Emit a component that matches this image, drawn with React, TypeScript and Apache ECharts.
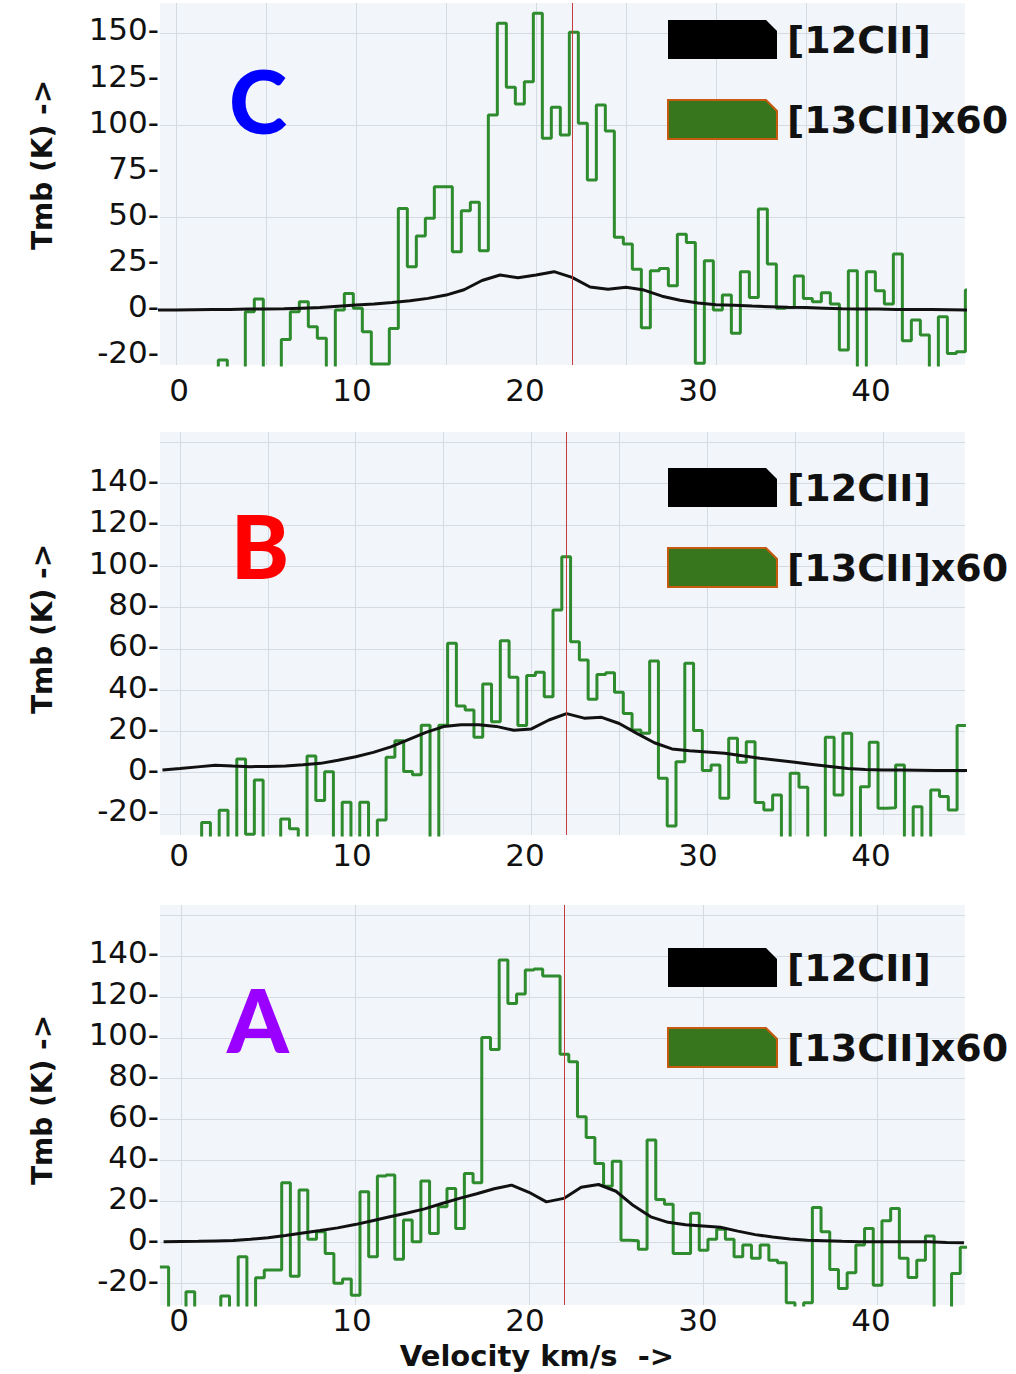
import React, { useEffect, useRef } from 'react';
import * as echarts from 'echarts';

// ---------- data ----------
const BIN = 0.5; // km/s channel width of the [13CII] histograms
const RED_LINE_V = 22; // km/s

const SERIES_12 = '[12CII]';
const SERIES_13 = '[13CII]x60';

// Panel C  ([13CII]x60 channel values, first channel starts at C_GREEN_V0)
const C_GREEN_V0 = -1.15;
const C_GREEN = [
  -40, -40, -40, -40, -40, -40, -40,
  -27.7, -40, -40, -1.5, 5.4, -40, -40, -16.5, -1.5, 4.0,
  -9.6, -15.9, -40, -0.5, 8.5, 0.4, -12.3, -29.8, -29.8, -10.5,
  54.7, 23.0, 39.7, 49.3, 66.5, 66.5, 31.1, 53.4, 58.0, 31.7,
  105.4, 155.3, 120.5, 111.4, 123.5, 160.7, 92.8, 109.6, 94.6,
  150.4, 100.9, 70.1, 110.9, 96.7, 39.0, 35.3, 21.6, -10.1, 20.8,
  22.1, 12.7, 40.6, 36.2, -29.5, 26.3, -0.5, 7.6, -13.2, 20.3,
  6.3, 54.3, 24.5, 0.4, 0.8, 17.9, 5.8, 4.0, 8.9, 2.7,
  -22.3, 20.8, -40, 20.3, 10.0, 2.7, 29.9, -17.2, -6.0, -14.1,
  -40, -4.2, -24.1, -23.2, 10.3,
];

// Panel B
const B_GREEN_V0 = -1.27;
const B_GREEN = [
  -40, -40, -40, -40, -40,
  -24.2, -40, -18.2, -40, 6.6, -29.8, -3.5, -40, -40, -22.5,
  -27.2, -40, 8.1, -13.5, 0.4, -40, -14.3, -40, -14.3, -40,
  -22.9, 7.4, 15.4, 0.5, -1.0, 23.0, -40, 23.0, 62.7, 32.3,
  30.4, 17.1, 43.0, 24.7, 63.9, 46.2, 22.8, 47.0, 48.6, 36.8,
  78.8, 104.6, 63.4, 54.6, 35.5, 47.6, 48.4, 38.9, 28.7, 20.7,
  19.1, 54.1, -2.7, -25.8, 5.3, 53.0, 20.4, 1.0, 3.7, -12.4,
  16.7, 5.0, 15.0, -14.5, -18.1, -10.8, -40, -0.3, -7.1, -40,
  -40, 17.1, -10.8, 19.1, -40, -6.8, 14.7, -17.3, -17.0, 3.7,
  -40, -16.5, -40, -8.4, -11.6, -18.1, 22.8,
];

// Panel A
const A_GREEN_V0 = -1.213;
const A_GREEN = [
  -12, -40, -40,
  -24.1, -40, -40, -40, -26.2, -40, -7.0, -40, -17.3, -13.5,
  -13.5, 29.1, -16.5, 25.6, 1.5, 5.2, -5.4, -20.0, -17.9, -25.8,
  24.7, -7.0, 32.4, 32.9, -8.3, 10.9, 0.3, 30.0, 4.4, 17.4,
  26.4, 6.8, 33.7, 29.1, 100.2, 94.3, 138.0, 116.8, 121.4, 133.1,
  133.6, 130.2, 130.2, 92.0, 88.3, 61.4, 51.3, 38.6, 27.5, 39.7,
  1.1, 0.8, -3.4, 50.0, 21.0, 18.7, -5.4, -5.4, 14.2, -3.8,
  1.5, 6.4, 1.5, -7.0, -1.3, -7.8, -1.3, -8.7, -9.9, -29.5,
  -40, -29.5, 17.1, 5.2, -13.2, -22.5, -14.8, -1.3, 6.8, -20.9,
  10.6, 16.6, -7.8, -17.1, -8.7, 3.1, -40, -40, -15.2, -2.4,
];

// [12CII] sampled at these velocities
const BLACK_V = [
  -1, 0, 1, 2, 3, 4, 5, 6, 7, 8, 9, 10, 11, 12, 13, 14, 15, 16, 17, 18, 19, 20, 21, 22, 23,
  24, 25, 26, 27, 28, 29, 30, 31, 32, 33, 34, 35, 36, 37, 38, 39, 40, 41, 42, 43, 44, 45,
];
const C_BLACK = [
  -0.5, -0.5, -0.4, -0.3, -0.2, 0, 0, 0.2, 0.5, 0.8, 1.5, 2.2, 2.8, 3.6, 4.5, 5.8, 7.6, 10.5,
  15.5, 18.5, 17.0, 18.5, 20.3, 17.2, 12.0, 10.8, 11.8, 10.3, 7.0, 4.8, 3.3, 2.4, 2.0, 1.6,
  1.3, 1.0, 0.8, 0.5, 0.2, 0, 0, -0.2, -0.3, -0.3, -0.4, -0.5, -0.5,
];
const B_BLACK = [
  1.3, 2.0, 2.8, 3.6, 3.2, 2.9, 3.0, 3.2, 3.8, 4.5, 6.0, 7.7, 9.8, 12.5, 16.0, 19.5, 22.3,
  23.2, 23.2, 22.4, 20.5, 21.2, 25.5, 28.6, 26.4, 26.8, 23.8, 19.0, 14.5, 11.5, 10.6, 10.0,
  9.4, 8.2, 7.0, 6.0, 5.0, 4.0, 3.0, 2.0, 1.5, 1.3, 1.3, 1.2, 1.1, 1.0, 1.0,
];
const A_BLACK = [
  0.3, 0.4, 0.5, 0.7, 0.9, 1.5, 2.3, 3.4, 4.6, 5.8, 7.1, 8.7, 10.6, 12.5, 14.4, 16.4, 19.0,
  21.5, 23.8, 26.2, 28.0, 24.5, 19.8, 21.5, 27.0, 28.3, 25.0, 18.0, 12.5, 9.8, 8.6, 8.0,
  7.4, 5.5, 3.8, 2.6, 1.7, 1.1, 0.8, 0.5, 0.3, 0.3, 0.3, 0.3, 0.3, 0.0, -0.2,
];

// tick / grid values
const C_Y_TICKS = [-25, 0, 25, 50, 75, 100, 125, 150];
const C_Y_TICK_LABELS = ['-20', '0', '25', '50', '75', '100', '125', '150'];
const C_Y_GRID = [0, 50, 100, 150];
const BA_Y_TICKS = [-20, 0, 20, 40, 60, 80, 100, 120, 140];
const BA_Y_TICK_LABELS = ['-20', '0', '20', '40', '60', '80', '100', '120', '140'];
const BA_Y_GRID = [-20, 0, 20, 40, 60, 80, 100, 120, 140, 160];
const X_GRID_5 = [0, 5, 10, 15, 20, 25, 30, 35, 40];
const X_GRID_10 = [0, 10, 20, 30, 40];
const X_TICK_LABELS = [0, 10, 20, 30, 40];

// ---------- layout / style ----------
const PANELS = [
  {
    letter: 'C', letterColor: '#0000ff', letterX: 258, letterY: 100, nameY: 165,
    grid: { left: 160, top: 3, width: 805, height: 362 },
    xMin: -0.89, xMax: 43.83, yMin: -30.4, yMax: 166.3,
    xGrid: X_GRID_5, yGrid: C_Y_GRID, yTicks: C_Y_TICKS, yLabels: C_Y_TICK_LABELS,
    green: C_GREEN, green0: C_GREEN_V0, black: C_BLACK, legendTop: 20, xLabelMargin: 9,
  },
  {
    letter: 'B', letterColor: '#ff0000', letterX: 260, letterY: 545, nameY: 629,
    grid: { left: 160, top: 432, width: 805, height: 403 },
    xMin: -1.14, xMax: 44.68, yMin: -30.2, yMax: 165.0,
    xGrid: X_GRID_5, yGrid: BA_Y_GRID, yTicks: BA_Y_TICKS, yLabels: BA_Y_TICK_LABELS,
    green: B_GREEN, green0: B_GREEN_V0, black: B_BLACK, legendTop: 468, xLabelMargin: 4,
  },
  {
    letter: 'A', letterColor: '#9900ff', letterX: 258, letterY: 1019, nameY: 1100,
    grid: { left: 160, top: 905, width: 805, height: 400 },
    xMin: -1.207, xMax: 45.06, yMin: -30.6, yMax: 164.9,
    xGrid: X_GRID_10, yGrid: BA_Y_GRID, yTicks: BA_Y_TICKS, yLabels: BA_Y_TICK_LABELS,
    green: A_GREEN, green0: A_GREEN_V0, black: A_BLACK, legendTop: 948, xLabelMargin: -1,
  },
];

const LABEL_AXIS_MIN = -1.098;
const LABEL_AXIS_MAX = 45.43;

const GREEN = '#2e8b2e';
const GRID_LINE = '#d5dbe3';
const PLOT_BG = '#f2f5f9';
const TEXT = '#111111';
const FONT = 'DejaVu Sans';
const LEGEND_ICON = 'path://M0,0H98L109,11V39H0Z';

function greenData(v0: number, vals: number[]) {
  const d = vals.map((y, i) => [v0 + i * BIN, y]);
  d.push([v0 + vals.length * BIN, vals[vals.length - 1]]);
  return d;
}

function buildOption() {
  const grid: any[] = [];
  const xAxis: any[] = [];
  const yAxis: any[] = [];
  const series: any[] = [];
  const legend: any[] = [];
  const graphic: any[] = [];

  PANELS.forEach((p, i) => {
    grid.push({
      ...p.grid,
      show: true,
      backgroundColor: PLOT_BG,
      borderWidth: 0,
      containLabel: false,
      outerBoundsMode: 'none',
    });
    // data axis (gridlines)
    xAxis.push({
      type: 'value', gridIndex: i, min: p.xMin, max: p.xMax,
      axisLine: { show: false },
      axisTick: { show: false, customValues: p.xGrid },
      axisLabel: { show: false },
      splitLine: { show: true, lineStyle: { color: GRID_LINE, width: 1 } },
    });
    // label axis
    xAxis.push({
      type: 'value', gridIndex: i, min: LABEL_AXIS_MIN, max: LABEL_AXIS_MAX, position: 'bottom',
      axisLine: { show: false },
      axisTick: { show: false },
      splitLine: { show: false },
      axisLabel: {
        customValues: X_TICK_LABELS, margin: p.xLabelMargin,
        fontFamily: FONT, fontSize: 31, color: TEXT,
      },
    });
    const map: Record<string, string> = {};
    p.yTicks.forEach((v, k) => { map[String(v)] = p.yLabels[k]; });
    yAxis.push({
      type: 'value', gridIndex: i, min: p.yMin, max: p.yMax,
      axisLine: { show: false },
      axisTick: { show: false, customValues: p.yGrid },
      splitLine: { show: true, lineStyle: { color: GRID_LINE, width: 1 } },
      axisLabel: {
        customValues: p.yTicks, margin: 1,
        fontFamily: FONT, fontSize: 31, color: TEXT,
        verticalAlign: 'bottom', lineHeight: 31, padding: [0, 0, -12, 0],
        formatter: (v: number) => (map[String(v)] ?? String(v)) + '-',
      },
    });
    series.push({
      name: SERIES_13, type: 'line', xAxisIndex: i * 2, yAxisIndex: i,
      step: 'end', showSymbol: false, symbol: 'none',
      lineStyle: { color: GREEN, width: 3 }, itemStyle: { color: GREEN },
      data: greenData(p.green0, p.green), z: 2,
      markLine: {
        silent: true, symbol: ['none', 'none'], label: { show: false },
        lineStyle: { color: '#c43c3c', width: 1, type: 'solid' },
        data: [{ xAxis: RED_LINE_V }],
      },
    });
    series.push({
      name: SERIES_12, type: 'line', xAxisIndex: i * 2, yAxisIndex: i,
      showSymbol: false, symbol: 'none',
      lineStyle: { color: '#111111', width: 3 }, itemStyle: { color: '#000000' },
      data: p.black.map((y, k) => [BLACK_V[k], y]), z: 3,
    });
    legend.push({
      orient: 'vertical', left: 667, top: p.legendTop, padding: 0,
      itemWidth: 109, itemHeight: 39, itemGap: 40, icon: LEGEND_ICON,
      selectedMode: false,
      data: [
        { name: SERIES_12, itemStyle: { color: '#000000', borderWidth: 0 } },
        { name: SERIES_13, itemStyle: { color: '#38761d', borderColor: '#c55a11', borderWidth: 2 } },
      ],
      textStyle: { fontFamily: FONT, fontWeight: 'bold', fontSize: 38, color: TEXT, padding: [0, 0, 0, 5] },
    });
    graphic.push({
      type: 'text', x: p.letterX, y: p.letterY, z: 10,
      style: {
        text: p.letter, fill: p.letterColor, fontFamily: 'Lato', fontWeight: 900, fontSize: 88,
        align: 'center', verticalAlign: 'middle',
      },
    });
    graphic.push({
      type: 'text', x: 42, y: p.nameY, rotation: Math.PI / 2, z: 10,
      style: {
        text: 'Tmb (K) ->', fill: TEXT, fontFamily: FONT, fontWeight: 'bold', fontSize: 28,
        align: 'center', verticalAlign: 'middle',
      },
    });
  });

  graphic.push({
    type: 'text', x: 537, y: 1356, z: 10,
    style: {
      text: 'Velocity km/s  ->', fill: TEXT, fontFamily: FONT, fontWeight: 'bold', fontSize: 29,
      align: 'center', verticalAlign: 'middle',
    },
  });

  return {
    animation: false,
    backgroundColor: '#ffffff',
    grid, xAxis, yAxis, series, legend, graphic,
  };
}

export default function App() {
  const ref = useRef<HTMLDivElement>(null);
  useEffect(() => {
    if (!ref.current) return;
    const chart = echarts.init(ref.current, null, { renderer: 'svg' });
    chart.setOption(buildOption() as any);
    return () => chart.dispose();
  }, []);
  return (
    <div
      ref={ref}
      style={{ position: 'absolute', left: 0, top: 0, width: 1016, height: 1374, background: '#fff' }}
    />
  );
}
